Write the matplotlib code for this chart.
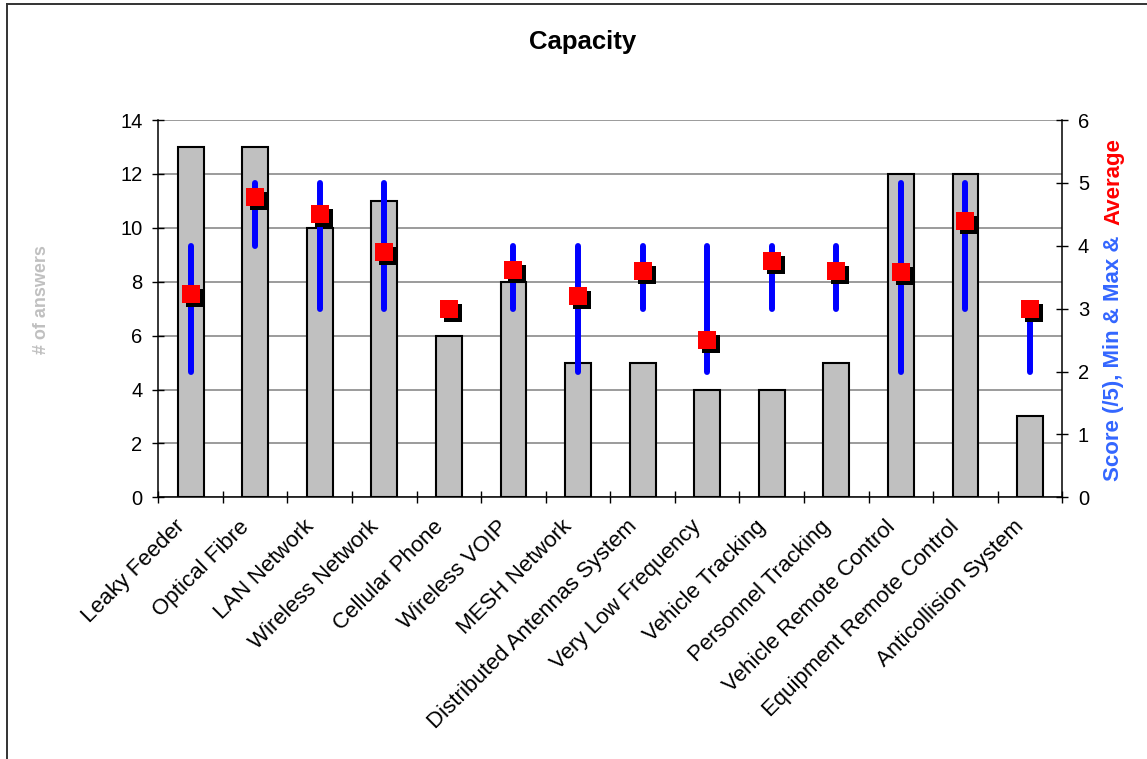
import matplotlib
matplotlib.use("Agg")
import matplotlib.pyplot as plt
import matplotlib.transforms as mtransforms
from matplotlib.lines import Line2D
import numpy as np

plt.rcParams['font.family'] = ['Liberation Sans', 'DejaVu Sans']

# Technologies rated for capacity
categories = ["Leaky Feeder", "Optical Fibre", "LAN Network", "Wireless Network",
              "Cellular Phone", "Wireless VOIP", "MESH Network",
              "Distributed Antennas System", "Very Low Frequency", "Vehicle Tracking",
              "Personnel Tracking", "Vehicle Remote Control",
              "Equipment Remote Control", "Anticollision System"]
answers = [13, 13, 10, 11, 6, 8, 5, 5, 4, 4, 5, 12, 12, 3]
score_min = [2, 4, 3, 3, 3, 3, 2, 3, 2, 3, 3, 2, 3, 2]
score_max = [4, 5, 5, 5, 3, 4, 4, 4, 4, 4, 4, 5, 5, 3]
score_avg = [3.23, 4.77, 4.5, 3.9, 3.0, 3.62, 3.2, 3.6, 2.5, 3.75, 3.6, 3.58, 4.4, 3.0]
left_ticks = [0, 2, 4, 6, 8, 10, 12, 14]
right_ticks = [0, 1, 2, 3, 4, 5, 6]

W, H = 1147, 759
fig = plt.figure(figsize=(W / 100, H / 100), dpi=100)
fig.patch.set_facecolor("white")

# outer chart frame (left and top edges)
fig.add_artist(Line2D([7 / W, 7 / W], [0, 1 - 4 / H], color="#333333", lw=1.4))
fig.add_artist(Line2D([7 / W, 1], [1 - 4 / H, 1 - 4 / H], color="#333333", lw=1.4))

x0, x1, y0, y1 = 158.3, 1062.3, 497.3, 120.0
ax = fig.add_axes([x0 / W, 1 - y0 / H, (x1 - x0) / W, (y0 - y1) / H])
ax2 = ax.twinx()

x = np.arange(len(categories))

# bars: number of answers
ax.bar(x, answers, width=0.40, color="#C0C0C0", edgecolor="black", linewidth=1.5, zorder=2)
ax.set_xlim(-0.5, len(categories) - 0.5)
ax.set_ylim(0, 14)
ax.set_yticks(left_ticks)
ax.set_axisbelow(True)
ax.yaxis.grid(True, color="#808080", linewidth=1.1)

ax.spines["top"].set_visible(False)
ax.spines["right"].set_visible(False)
for s in ["left", "bottom"]:
    ax.spines[s].set_color("black")
    ax.spines[s].set_linewidth(1.1)

ax.tick_params(axis="y", direction="inout", length=8.6, width=1.0, pad=7, labelsize=14.5)
ax.set_xticks(x)
ax.set_xticks(np.arange(-0.5, len(categories)), minor=True)
ax.tick_params(axis="x", which="major", length=0, pad=19, labelsize=16)
ax.tick_params(axis="x", which="minor", direction="inout", length=8.6, width=1.0)
ax.set_xticklabels(categories, rotation=45, ha="right", va="center", rotation_mode="anchor")
shift = mtransforms.ScaledTranslation(-9 / 100, 0, fig.dpi_scale_trans)
for lbl in ax.get_xticklabels():
    lbl.set_transform(lbl.get_transform() + shift)

# score range and average on the secondary axis
ax2.set_ylim(0, 6)
ax2.set_yticks(right_ticks)
for s in ["top", "left", "bottom"]:
    ax2.spines[s].set_visible(False)
ax2.spines["right"].set_color("black")
ax2.spines["right"].set_linewidth(1.1)
ax2.tick_params(axis="y", direction="inout", length=8.6, width=1.0, pad=7, labelsize=14.5)

rng = ax2.vlines(x, score_min, score_max, color="#0000FF", linewidth=4.3, zorder=3)
rng.set_capstyle("round")

shadow = mtransforms.offset_copy(ax2.transData, fig=fig, x=4, y=-4, units="dots")
ax2.plot(x, score_avg, linestyle="none", marker="s", markersize=13.3,
         color="black", markeredgewidth=0, transform=shadow, zorder=4)
ax2.plot(x, score_avg, linestyle="none", marker="s", markersize=13.3,
         color="#FF0000", markeredgewidth=0, zorder=5)

# title and axis captions
fig.text(583 / W, 1 - 42 / H, "Capacity", ha="center", va="center",
         fontsize=18.5, fontweight="bold")
fig.text(42 / W, 1 - 300 / H, "# of answers", ha="center", va="center",
         rotation=90, fontsize=13, fontweight="bold", color="#C0C0C0")

lbl_blue = fig.text(1114 / W, 1 - 481 / H, "Score (/5), Min & Max & ", ha="center",
                    va="bottom", rotation=90, fontsize=16, fontweight="bold",
                    color="#3366FF")
fig.canvas.draw()
bb = lbl_blue.get_window_extent()
fig.text(1114 / W, (bb.y1 + 4) / H, "Average", ha="center", va="bottom",
         rotation=90, fontsize=16, fontweight="bold", color="#FF0000")

fig.savefig("out.png", dpi=100, facecolor="white")
